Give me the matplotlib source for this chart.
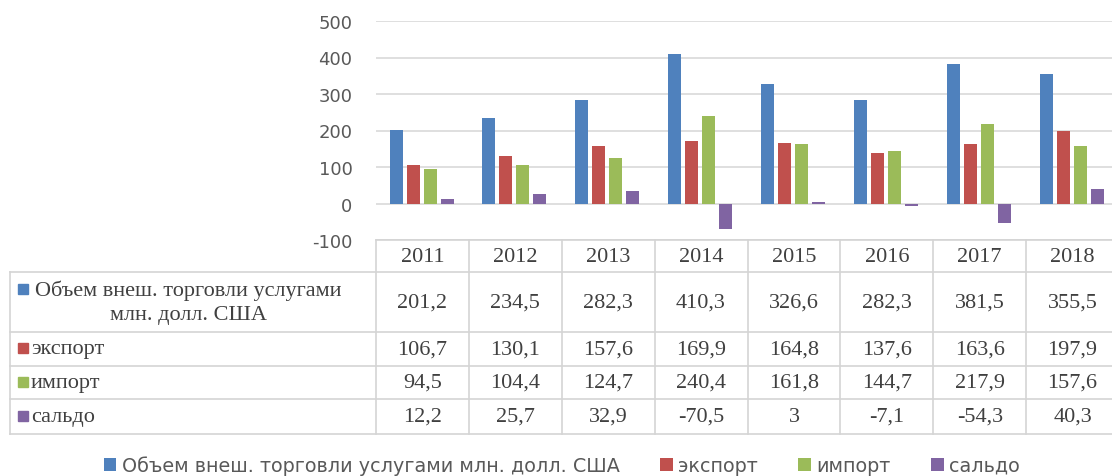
import matplotlib
matplotlib.use("Agg")
import matplotlib.pyplot as plt
from matplotlib.patches import Rectangle

plt.rcParams['axes.unicode_minus'] = False

years = ["2011", "2012", "2013", "2014", "2015", "2016", "2017", "2018"]
series_names = ["Объем внеш. торговли услугами млн. долл. США", "экспорт", "импорт", "сальдо"]
total = [201.2, 234.5, 282.3, 410.3, 326.6, 282.3, 381.5, 355.5]
export = [106.7, 130.1, 157.6, 169.9, 164.8, 137.6, 163.6, 197.9]
imports = [94.5, 104.4, 124.7, 240.4, 161.8, 144.7, 217.9, 157.6]
saldo = [12.2, 25.7, 32.9, -70.5, 3, -7.1, -54.3, 40.3]
yticks = [-100, 0, 100, 200, 300, 400, 500]

series = [total, export, imports, saldo]
colors = ["#4F81BD", "#C0504D", "#9BBB59", "#8064A2"]

W, H = 1112, 477
fig = plt.figure(figsize=(W / 100, H / 100), dpi=100)

# plot area geometry (pixels)
px_left, px_right = 376, 1119
px_top, px_bot = 22, 241
ax = fig.add_axes([px_left / W, 1 - px_bot / H, (px_right - px_left) / W, (px_bot - px_top) / H])

n = len(years)
step = 0.183
bw = 0.14
handles = []
for k, (vals, c) in enumerate(zip(series, colors)):
    xs = [i + (k - 1.5) * step - 0.01 for i in range(n)]
    b = ax.bar(xs, vals, width=bw, color=c, zorder=3)
    handles.append(b)

ax.set_xlim(-0.5, n - 0.5)
ax.set_ylim(-100, 500)
ax.set_yticks(yticks)
ax.set_yticklabels([str(t) for t in yticks], fontsize=13, color="#595959", family="DejaVu Sans")
ax.tick_params(axis='y', length=0, pad=17)
ax.set_xticks([])
ax.grid(axis='y', color="#D9D9D9", lw=1.2, zorder=0)
for s in ax.spines.values():
    s.set_visible(False)

# table overlay in pixel coordinates
tab = fig.add_axes([0, 0, 1, 1], zorder=5)
tab.set_xlim(0, W)
tab.set_ylim(H, 0)
tab.axis('off')
tab.patch.set_alpha(0)

lc = "#D4D4D4"
colw = (px_right - px_left) / n
col_edges = [px_left + i * colw for i in range(n + 1)]
row_edges = [241, 273, 333, 367, 400, 435]
tab_left = 10

tab.plot([px_left, W], [row_edges[0], row_edges[0]], color=lc, lw=1.2)
for y in row_edges[1:]:
    tab.plot([tab_left, W], [y, y], color=lc, lw=1.2)
for x in col_edges:
    tab.plot([x, x], [row_edges[0], row_edges[-1]], color=lc, lw=1.2)
tab.plot([tab_left, tab_left], [row_edges[1], row_edges[-1]], color=lc, lw=1.2)

tc = "#404040"
sfont = dict(family="Liberation Serif", fontsize=16, color=tc)
for i, yr in enumerate(years):
    cx = (col_edges[i] + col_edges[i + 1]) / 2
    tab.text(cx, (row_edges[0] + row_edges[1]) / 2 + 1, yr, ha='center', va='center', **sfont)
    for r, vals in enumerate(series):
        cy = (row_edges[r + 1] + row_edges[r + 2]) / 2
        lab = f"{vals[i]:g}".replace('.', ',')
        tab.text(cx, cy, lab, ha='center', va='center', **sfont)

# row labels with keys
for r, (name, c) in enumerate(zip(series_names, colors)):
    cy = (row_edges[r + 1] + row_edges[r + 2]) / 2
    if r == 0:
        tab.add_patch(Rectangle((18, 285), 10, 10, color=c))
        tab.text(188, 291, "Объем внеш. торговли услугами", ha='center', va='center', **sfont)
        tab.text(188, 316, "млн. долл. США", ha='center', va='center', **sfont)
    else:
        tab.add_patch(Rectangle((18, cy - 6), 10, 10, color=c))
        tab.text(31, cy, name, ha='left', va='center', **sfont)

leg = fig.legend(handles, series_names, loc='center', bbox_to_anchor=(562 / W, 1 - 466 / H),
                 ncol=4, frameon=False, handlelength=0.65, handleheight=0.65, handletextpad=0.3,
                 columnspacing=2.1, prop=dict(family="DejaVu Sans", size=13.8))
for t in leg.get_texts():
    t.set_color("#595959")

fig.savefig("out.png", dpi=100)
